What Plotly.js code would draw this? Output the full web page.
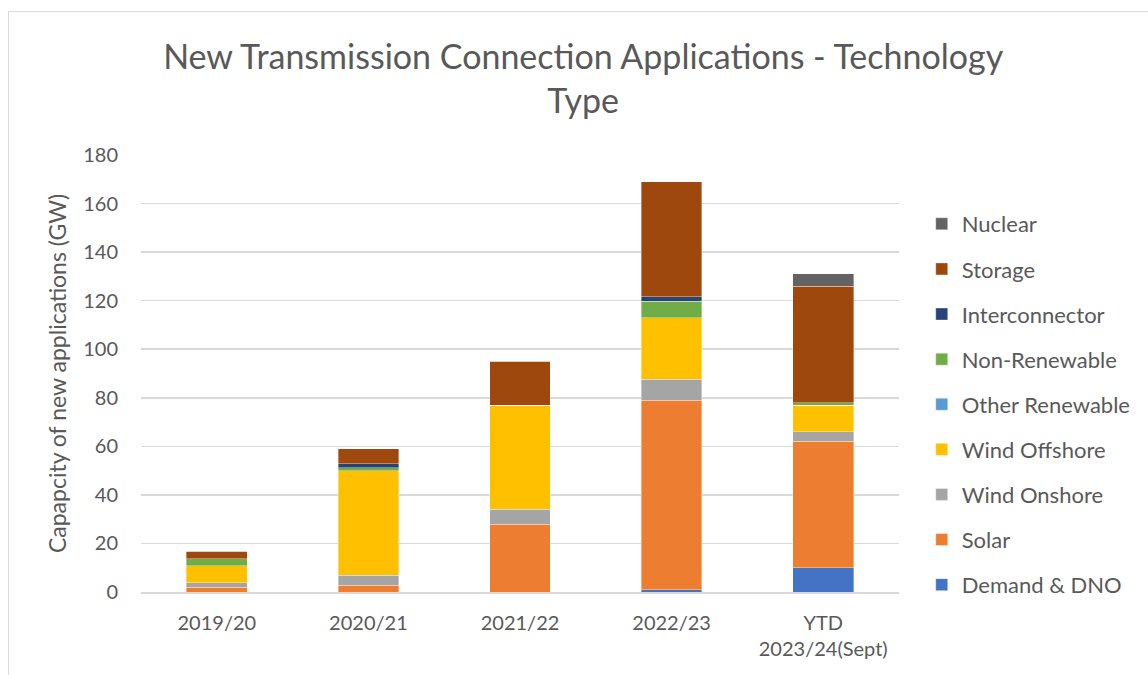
<!DOCTYPE html>
<html>
<head>
<meta charset="utf-8">
<script src="https://cdn.plot.ly/plotly-3.0.1.min.js"></script>
<style>
  html, body { margin: 0; padding: 0; background: #ffffff; }
  #frame { position: absolute; left: 8px; top: 11px; width: 1150px; height: 680px; border: 1px solid #d9d9d9; box-sizing: border-box; pointer-events: none; }
  #chart { position: absolute; left: 0; top: 0; width: 1148px; height: 675px; }
</style>
</head>
<body>
<div id="chart"></div>
<div id="frame"></div>
<script>
// Categories (financial years)
const categories = ["2019/20", "2020/21", "2021/22", "2022/23", "YTD<br>2023/24(Sept)"];

// Capacity of new applications (GW) by technology
const demandDNO      = [0,   0,   0,  1,    10];
const solar          = [1.9, 2.8, 28, 78,   52];
const windOnshore    = [1.9, 4.1, 6,  8.7,  4];
const windOffshore   = [7.1, 43,  43, 25.2, 11];
const otherRenewable = [0,   0,   0,  0,    0];
const nonRenewable   = [2.9, 1.2, 0,  6.9,  0.9];
const interconnector = [0,   1.8, 0,  1.9,  0];
const storage        = [2.9, 6.2, 18, 47.2, 48];
const nuclear        = [0,   0,   0,  0,    5.2];

const seriesNames = ["Demand & DNO", "Solar", "Wind Onshore", "Wind Offshore", "Other Renewable",
                     "Non-Renewable", "Interconnector", "Storage", "Nuclear"];
const seriesValues = [demandDNO, solar, windOnshore, windOffshore, otherRenewable,
                      nonRenewable, interconnector, storage, nuclear];
const seriesColors = ["#4472C4", "#ED7D31", "#A5A5A5", "#FFC000", "#5B9BD5",
                      "#70AD47", "#264478", "#9E480E", "#636363"];

const FONT = "Lato, 'Open Sans', sans-serif";
const TXT = "#595959";

const traces = seriesNames.map((name, i) => ({
  type: "bar",
  name: name,
  x: categories,
  y: seriesValues[i],
  legendgroup: "g" + i,
  legendrank: 1000 - i,
  marker: { color: seriesColors[i], line: { color: "rgba(255,255,255,0.6)", width: 0.6 } },
  hoverinfo: "x+y+name"
}));

const layout = {
  width: 1148,
  height: 675,
  barmode: "stack",
  bargap: 0.6,
  paper_bgcolor: "rgba(0,0,0,0)",
  plot_bgcolor: "#ffffff",
  margin: { l: 141, r: 245, t: 155, b: 83 },
  font: { family: FONT, color: TXT },
  title: {
    text: "New Transmission Connection Applications - Technology<br>Type",
    font: { family: FONT, size: 34, color: TXT },
    x: 0.508, xanchor: "center",
    y: 0.898, yanchor: "top"
  },
  xaxis: {
    type: "category",
    tickfont: { family: FONT, size: 20, color: TXT },
    showgrid: false,
    showline: true,
    linecolor: "#d9d9d9",
    linewidth: 1.5,
    ticks: "",
    ticklabelstandoff: 12
  },
  yaxis: {
    range: [0, 180],
    dtick: 20,
    tickfont: { family: FONT, size: 20, color: TXT },
    gridcolor: "#d9d9d9",
    gridwidth: 1.5,
    zeroline: false,
    showline: false,
    ticks: "",
    ticklabelstandoff: 22,
    title: { text: "Capapcity of new applications (GW)", font: { family: FONT, size: 23, color: TXT }, standoff: 10 }
  },
  legend: {
    x: 1.03, xanchor: "left",
    y: 0.429, yanchor: "middle",
    traceorder: "grouped",
    tracegroupgap: 13.5,
    font: { family: FONT, size: 22, color: TXT },
    itemwidth: 30,
    bgcolor: "rgba(0,0,0,0)"
  },
  showlegend: true
};

Plotly.newPlot("chart", traces, layout, { displayModeBar: false, staticPlot: true });
</script>
</body>
</html>
